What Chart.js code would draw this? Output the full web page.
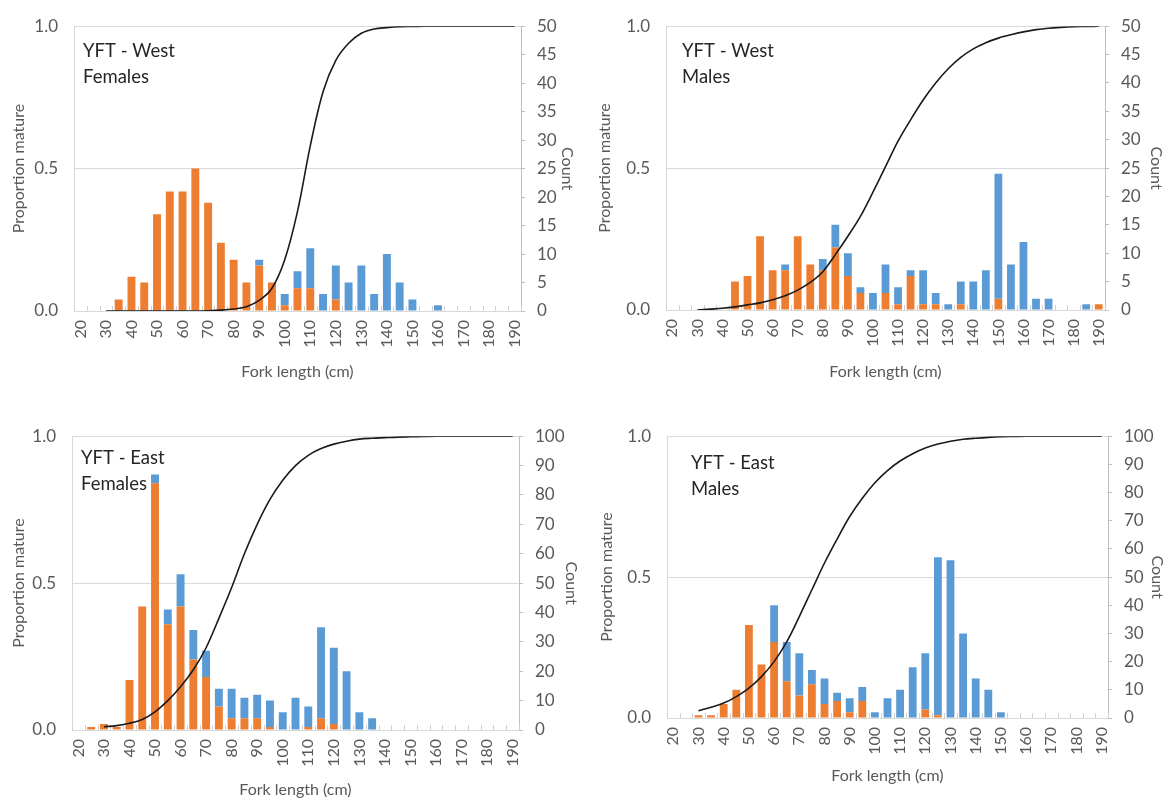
<!DOCTYPE html>
<html><head><meta charset="utf-8">
<script src="https://cdn.jsdelivr.net/npm/chart.js@4/dist/chart.umd.min.js"></script>
<style>
html,body{margin:0;padding:0;background:#fff;width:1171px;height:803px;overflow:hidden}
.p{position:absolute}
canvas{display:block}
</style></head><body>
<div class="p" style="left:0;top:0"><canvas id="c1" width="585" height="400"></canvas></div>
<div class="p" style="left:585px;top:0"><canvas id="c2" width="586" height="400"></canvas></div>
<div class="p" style="left:0;top:410px"><canvas id="c3" width="585" height="393"></canvas></div>
<div class="p" style="left:585px;top:410px"><canvas id="c4" width="586" height="393"></canvas></div>
<script>
// Fork length classes (cm)
const lengths = [20,25,30,35,40,45,50,55,60,65,70,75,80,85,90,95,100,105,110,115,120,125,130,135,140,145,150,155,160,165,170,175,180,185,190];

// YFT - West, Females
const westFemImmature = [0,0,0,2,6,5,17,21,21,25,19,12,9,5,8,5,1,4,4,0,2,0,0,0,0,0,0,0,0,0,0,0,0,0,0];
const westFemMature   = [0,0,0,0,0,0,0,0,0,0,0,0,0,0,1,0,2,3,7,3,6,5,8,3,10,5,2,0,1,0,0,0,0,0,0];
const westFemProp     = [null,null,0,0,0,0,0,0,0,0,0.001,0.003,0.007,0.015,0.037,0.08,0.18,0.35,0.58,0.77,0.88,0.94,0.975,0.99,0.995,0.998,0.999,1,1,1,1,1,1,1,1];

// YFT - West, Males
const westMalImmature = [0,0,0,0,0,5,6,13,7,7,13,8,7,11,6,3,0,3,1,6,1,1,0,1,0,0,2,0,0,0,0,0,0,0,1];
const westMalMature   = [0,0,0,0,0,0,0,0,0,1,0,0,2,4,4,1,3,5,3,1,6,2,1,4,5,7,22,8,12,2,2,0,0,1,0];
const westMalProp     = [null,null,0,0.003,0.006,0.011,0.018,0.025,0.036,0.05,0.07,0.097,0.135,0.195,0.26,0.33,0.415,0.505,0.595,0.67,0.74,0.8,0.85,0.89,0.92,0.942,0.958,0.97,0.98,0.988,0.993,0.996,0.998,0.999,1];

// YFT - East, Females
const eastFemImmature = [0,1,2,1,17,42,84,36,42,24,18,8,4,4,4,1,0,0,1,4,2,0,0,0,0,0,0,0,0,0,0,0,0,0,0];
const eastFemMature   = [0,0,0,0,0,0,3,5,11,10,9,6,10,7,8,9,6,11,7,31,26,20,6,4,0,0,0,0,0,0,0,0,0,0,0];
const eastFemProp     = [null,null,0.011,0.015,0.023,0.036,0.062,0.1,0.147,0.205,0.28,0.38,0.485,0.6,0.7,0.785,0.85,0.9,0.935,0.958,0.973,0.983,0.99,0.993,0.995,0.997,0.998,0.999,1,1,1,1,1,1,1];

// YFT - East, Males
const eastMalImmature = [0,0,1,1,5,10,33,19,27,13,8,12,5,6,2,6,0,0,0,0,3,1,0,0,0,0,0,0,0,0,0,0,0,0,0];
const eastMalMature   = [0,0,0,0,0,0,0,0,13,14,15,5,9,3,5,5,2,7,10,18,20,56,56,30,14,10,2,0,0,0,0,0,0,0,0];
const eastMalProp     = [null,null,0.026,0.038,0.053,0.076,0.106,0.147,0.2,0.27,0.36,0.455,0.55,0.635,0.715,0.78,0.835,0.878,0.912,0.938,0.958,0.972,0.982,0.989,0.993,0.996,0.998,0.999,1,1,1,1,1,1,1];

// Axis tick settings
const countTicksWest = {max: 50, step: 5};
const countTicksEast = {max: 100, step: 10};
const propTicks = {max: 1, step: 0.5};

const ORANGE = '#ED7D31', BLUE = '#5B9BD5';
const FONT = 'Lato, "Open Sans", sans-serif';
const TXT = '#595959';

const insideTicks = {
  id: 'insideTicks',
  beforeDatasetsDraw(chart) {
    const x = chart.scales.x, ctx = chart.ctx, n = x.getLabels().length;
    const y0 = chart.chartArea.bottom;
    ctx.save();
    ctx.strokeStyle = '#d0d0d0'; ctx.lineWidth = 1;
    ctx.beginPath();
    for (let i = 0; i <= n; i++) {
      const px = Math.round(x.getPixelForValue(i - 0.5)) + 0.5;
      ctx.moveTo(px, y0); ctx.lineTo(px, y0 - 5);
    }
    ctx.stroke();
    ctx.restore();
  }
};
const panelText = {
  id: 'panelText',
  afterDraw(chart, args, o) {
    if (!o || !o.lines) return;
    const ctx = chart.ctx, a = chart.chartArea;
    ctx.save();
    ctx.font = o.size + 'px ' + FONT;
    ctx.fillStyle = '#262626';
    ctx.textBaseline = 'alphabetic';
    o.lines.forEach((t, i) => ctx.fillText(t, a.left + o.dx, a.top + o.dy + i * o.lh));
    ctx.restore();
  }
};

function makeChart(id, p) {
  new Chart(document.getElementById(id), {
    data: {
      labels: lengths.map(String),
      datasets: [
        {type: 'line', data: p.prop, yAxisID: 'yL', borderColor: '#1a1a1a', borderWidth: 1.6,
         pointRadius: 0, tension: 0.35, fill: false, order: 0},
        {type: 'bar', data: p.immature, yAxisID: 'yR', backgroundColor: ORANGE, order: 1,
         barPercentage: 0.62, categoryPercentage: 1},
        {type: 'bar', data: p.mature, yAxisID: 'yR', backgroundColor: BLUE, order: 2,
         barPercentage: 0.62, categoryPercentage: 1}
      ]
    },
    options: {
      responsive: false, animation: false, devicePixelRatio: 1,
      layout: {padding: p.pad},
      plugins: {legend: {display: false}, tooltip: {enabled: false},
        panelText: {lines: p.text, dx: p.tdx, dy: p.tdy, lh: 26, size: 18.5}},
      scales: {
        x: {
          stacked: true, offset: true,
          grid: {display: false, drawTicks: false},
          border: {display: true, color: '#d9d9d9'},
          ticks: {autoSkip: false, minRotation: 90, maxRotation: 90, padding: 9,
            color: TXT, font: {family: FONT, size: 16},
            callback: (v, i) => lengths[i] % 10 === 0 ? String(lengths[i]) : ''},
          title: {display: true, text: 'Fork length (cm)', color: TXT, font: {family: FONT, size: 16}},
          afterFit: s => { s.height = p.xh; }
        },
        yL: {
          position: 'left', min: 0, max: propTicks.max,
          grid: {color: '#d9d9d9', drawTicks: false},
          border: {display: true, color: '#d9d9d9'},
          ticks: {stepSize: propTicks.step, padding: 16, color: TXT, font: {family: FONT, size: 17},
            callback: v => Number(v).toFixed(1)},
          title: {display: true, text: 'Proportion mature', color: TXT, font: {family: FONT, size: 16}},
          afterFit: s => { s.width = p.lw; }
        },
        yR: {
          position: 'right', stacked: true, min: 0, max: p.count.max,
          grid: {drawOnChartArea: false, drawTicks: true, tickLength: 4, color: '#bfbfbf'},
          border: {display: true, color: '#bfbfbf'},
          ticks: {stepSize: p.count.step, padding: 12, color: TXT, font: {family: FONT, size: 17}},
          title: {display: true, text: 'Count', color: TXT, font: {family: FONT, size: 16}},
          afterFit: s => { s.width = p.rw; }
        }
      }
    },
    plugins: [insideTicks, panelText]
  });
}

makeChart('c1', {immature: westFemImmature, mature: westFemMature, prop: westFemProp, count: countTicksWest,
  pad: {left: 5, right: 4, top: 16, bottom: 15}, lw: 69, rw: 60, xh: 74,
  text: ['YFT - West', 'Females'], tdx: 9, tdy: 31});
makeChart('c2', {immature: westMalImmature, mature: westMalMature, prop: westMalProp, count: countTicksWest,
  pad: {left: 6, right: 1, top: 16, bottom: 15}, lw: 75, rw: 65, xh: 75,
  text: ['YFT - West', 'Males'], tdx: 16, tdy: 31});
makeChart('c3', {immature: eastFemImmature, mature: eastFemMature, prop: eastFemProp, count: countTicksEast,
  pad: {left: 5, right: 0, top: 26, bottom: 0}, lw: 67, rw: 66, xh: 73,
  text: ['YFT - East', 'Females'], tdx: 9, tdy: 28});
makeChart('c4', {immature: eastMalImmature, mature: eastMalMature, prop: eastMalProp, count: countTicksEast,
  pad: {left: 8, right: 0, top: 24, bottom: 14}, lw: 74, rw: 63, xh: 71,
  text: ['YFT - East', 'Males'], tdx: 24, tdy: 33});
</script>
</body></html>
